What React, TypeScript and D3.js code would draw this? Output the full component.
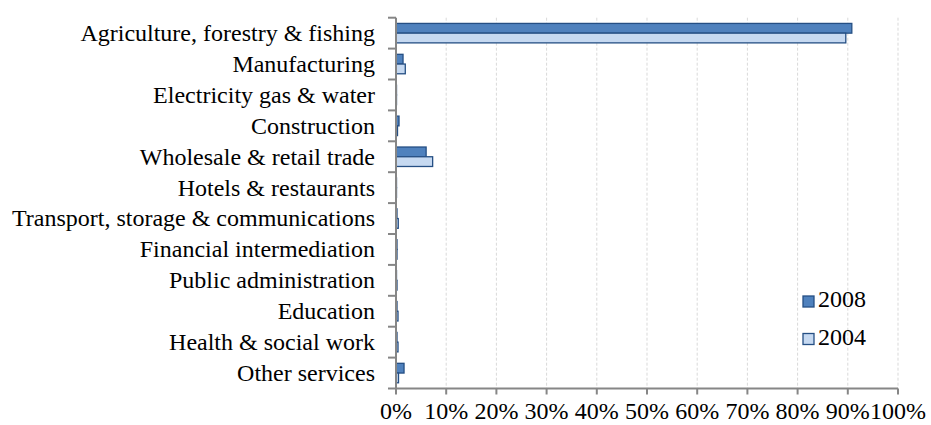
import React from "react";
import * as d3 from "d3";

const categories = [
  "Agriculture, forestry & fishing",
  "Manufacturing",
  "Electricity gas & water",
  "Construction",
  "Wholesale & retail trade",
  "Hotels & restaurants",
  "Transport, storage & communications",
  "Financial intermediation",
  "Public administration",
  "Education",
  "Health & social work",
  "Other services",
];
const values2008 = [90.8, 1.4, 0.1, 0.6, 6.0, 0.1, 0.2, 0.2, 0.1, 0.2, 0.2, 1.6];
const values2004 = [89.6, 1.85, 0.1, 0.3, 7.3, 0.1, 0.45, 0.2, 0.2, 0.4, 0.4, 0.5];
const xTicks = [0, 10, 20, 30, 40, 50, 60, 70, 80, 90, 100];
const seriesNames = ["2008", "2004"];

const W = 931;
const H = 425;
const left = 396;
const right = 898;
const top = 17.7;
const bottom = 388.5;
const font = "'Liberation Serif', 'Times New Roman', serif";

const fills = ["#4F81BD", "#C6D9F1"];
const stroke = "#254F84";

export default function App() {
  const x = d3.scaleLinear().domain([0, 100]).range([left, right]);
  const y = d3.scaleBand<string>().domain(categories).range([top, bottom]).padding(0);
  const step = y.step();
  const barH = step * 0.315;
  const series = [values2008, values2004];

  return (
    <svg
      width={W}
      height={H}
      style={{ position: "absolute", left: 0, top: 0, background: "#fff" }}
      fontFamily={font}
    >
      {xTicks.slice(1).map((t) => (
        <line
          key={"g" + t}
          x1={x(t)}
          x2={x(t)}
          y1={top}
          y2={bottom}
          stroke="#D9D9D9"
          strokeDasharray="3,2"
          strokeWidth={1}
        />
      ))}
      {categories.map((c, i) => {
        const cy = (y(c) ?? 0) + step / 2;
        return series.map((vals, s) => (
          <rect
            key={c + s}
            x={x(0)}
            y={cy - barH + s * barH}
            width={Math.max(0.5, x(vals[i]) - x(0))}
            height={barH}
            fill={fills[s]}
            stroke={stroke}
            strokeWidth={1.3}
          />
        ));
      })}
      <line x1={left} x2={left} y1={top} y2={bottom} stroke="#868686" strokeWidth={2} />
      {categories.map((c, i) => (
        <line
          key={"lt" + i}
          x1={left - 8}
          x2={left}
          y1={y(c) ?? 0}
          y2={y(c) ?? 0}
          stroke="#868686"
          strokeWidth={2}
        />
      ))}
      <line x1={left - 8} x2={left} y1={bottom} y2={bottom} stroke="#868686" strokeWidth={2} />
      {categories.map((c) => (
        <text
          key={"l" + c}
          x={375}
          y={(y(c) ?? 0) + step / 2}
          dy="0.33em"
          textAnchor="end"
          fontSize={24}
          fill="#000"
        >
          {c}
        </text>
      ))}
      <line x1={left} x2={right} y1={bottom} y2={bottom} stroke="#868686" strokeWidth={2} />
      {xTicks.map((t) => (
        <g key={"xt" + t}>
          <line x1={x(t)} x2={x(t)} y1={bottom} y2={bottom + 6} stroke="#868686" strokeWidth={2} />
          <text x={x(t)} y={419} textAnchor="middle" fontSize={24} fill="#000">
            {t}%
          </text>
        </g>
      ))}
      {seriesNames.map((n, i) => (
        <g key={"lg" + n}>
          <rect
            x={803}
            y={296 + i * 37.5}
            width={11}
            height={11}
            fill={fills[i]}
            stroke={stroke}
            strokeWidth={1.3}
          />
          <text x={818} y={307 + i * 37.5} fontSize={24} fill="#000">
            {n}
          </text>
        </g>
      ))}
    </svg>
  );
}
